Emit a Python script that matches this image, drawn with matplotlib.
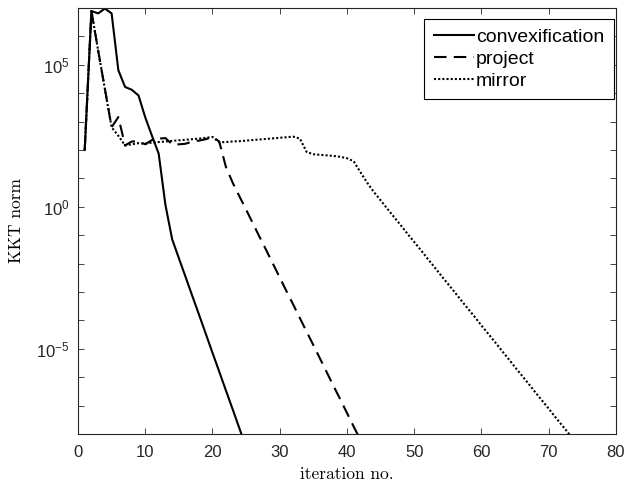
import matplotlib
matplotlib.use('Agg')
import numpy as np
from matplotlib import pyplot as plt
from matplotlib.ticker import FixedLocator, NullFormatter

# KKT norm per iteration as log10 values
convex_log = [2.0, 6.89, 6.81, 6.98, 6.81, 4.81, 4.22, 4.12, 3.92, 3.15,
              2.5, 1.87, 0.07, -1.14, -1.81, -2.47, -3.14, -3.80, -4.47, -5.14,
              -5.80, -6.47, -7.13, -7.80, -8.47]

project_log = [2.0, 6.89, 5.5, 4.15, 2.8, 3.16, 2.16, 2.3, 2.3, 2.2,
               2.35, 2.4, 2.42, 2.2, 2.2, 2.22, 2.3, 2.33, 2.38, 2.46,
               2.3, 1.4, 0.85, 0.37, -0.10, -0.58, -1.06, -1.53, -2.01, -2.49,
               -2.97, -3.44, -3.92, -4.40, -4.87, -5.35, -5.83, -6.31, -6.78, -7.26,
               -7.74, -8.21]

mirror_log = [2.0, 6.89, 5.5, 4.15, 2.8, 2.5, 2.16, 2.2, 2.24, 2.22,
              2.26, 2.28, 2.3, 2.32, 2.34, 2.36, 2.38, 2.4, 2.43, 2.46,
              2.27, 2.28, 2.3, 2.31, 2.33, 2.35, 2.37, 2.39, 2.41, 2.43,
              2.45, 2.47, 2.4, 1.93, 1.85, 1.83, 1.81, 1.79, 1.76, 1.71,
              1.6, 1.22, 0.85, 0.52, 0.23, -0.07, -0.36, -0.65, -0.95, -1.24,
              -1.53, -1.83, -2.12, -2.42, -2.71, -3.00, -3.30, -3.59, -3.88, -4.18,
              -4.47, -4.76, -5.06, -5.35, -5.65, -5.94, -6.23, -6.53, -6.82, -7.11,
              -7.41, -7.70, -7.99, -8.29]

labels = ['convexification', 'project', 'mirror']
xticks = [0, 10, 20, 30, 40, 50, 60, 70, 80]

plt.rcParams['font.family'] = ['Liberation Sans', 'DejaVu Sans']
plt.rcParams['mathtext.fontset'] = 'custom'
plt.rcParams['mathtext.rm'] = 'Liberation Sans'
plt.rcParams['mathtext.it'] = 'Liberation Sans:italic'

axcol = '#262626'

fig = plt.figure(figsize=(6.33, 4.9), dpi=100)
ax = fig.add_axes([0.1232, 0.1143, 0.9731 - 0.1232, 0.9837 - 0.1143])

series = [convex_log, project_log, mirror_log]
styles = [dict(ls='-'), dict(dashes=(6, 3.5)), dict(dashes=(1, 1))]
for vals, lab, st in zip(series, labels, styles):
    it = np.arange(1, len(vals) + 1)
    ax.semilogy(it, 10.0 ** np.array(vals), color='black', lw=1.5,
                label=lab, **st)

ax.set_xlim(0, 80)
ax.set_ylim(1e-8, 1e7)
ax.set_xticks(xticks)

ax.yaxis.set_major_locator(FixedLocator([1e-5, 1e0, 1e5]))
ax.set_yticklabels([r'$\mathregular{10^{-5}}$', r'$\mathregular{10^{0}}$',
                    r'$\mathregular{10^{5}}$'])
minor = [10.0 ** k for k in range(-8, 8) if k not in (-5, 0, 5)]
ax.yaxis.set_minor_locator(FixedLocator(minor))
ax.yaxis.set_minor_formatter(NullFormatter())

ax.tick_params(which='both', direction='in', top=True, right=True,
               length=4, width=0.6, color=axcol, labelcolor=axcol,
               labelsize=12)
ax.tick_params(axis='x', pad=8)
ax.tick_params(axis='y', pad=6)
for s in ax.spines.values():
    s.set_color(axcol)
    s.set_linewidth(0.8)

ax.set_xlabel('iteration no.', fontfamily='cmr10', fontsize=12.5, labelpad=5)
ax.set_ylabel('KKT norm', fontfamily='cmr10', fontsize=12.5, labelpad=9)

leg = ax.legend(loc='upper right', bbox_to_anchor=(0.970, 0.962),
                bbox_transform=fig.transFigure, fontsize=14, fancybox=False,
                framealpha=1, edgecolor='black', handlelength=2.05,
                handletextpad=0.12, labelspacing=0.22, borderpad=0.5,
                borderaxespad=0)
leg.get_frame().set_linewidth(0.8)

fig.savefig('out.png', dpi=100)
